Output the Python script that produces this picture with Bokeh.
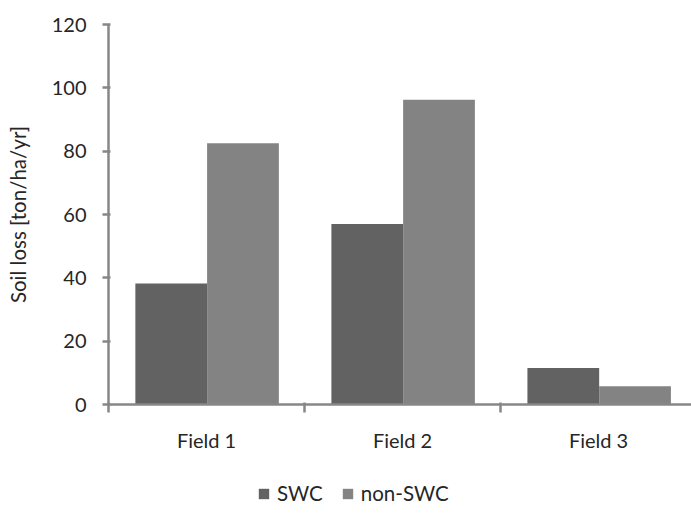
import numpy as np
from bokeh.plotting import figure
from bokeh.layouts import column
from bokeh.models import ColumnDataSource, Range1d, FixedTicker, Legend, LegendItem
from bokeh.transform import dodge
from bokeh.embed import file_html
from bokeh.resources import INLINE

categories = ["Field 1", "Field 2", "Field 3"]
series = ["SWC", "non-SWC"]
swc = [38.2, 57.0, 11.5]
non_swc = [82.5, 96.2, 5.8]
y_ticks = [0, 20, 40, 60, 80, 100, 120]
colors = ["#626262", "#838383"]

x_pos = (np.arange(len(categories)) + 0.5).tolist()
src = ColumnDataSource(dict(x=x_pos, swc=swc, non=non_swc, cat=categories))

FONT = "Lato"
TXT = "#262626"
AX = "#878787"

p = figure(width=691, height=470, output_backend="svg", toolbar_location=None,
           x_range=Range1d(0, 2.974), y_range=Range1d(0, 120),
           min_border_left=108, min_border_right=0, min_border_top=24,
           min_border_bottom=66)
p.outline_line_color = None
p.grid.grid_line_color = None
p.background_fill_color = "white"
p.border_fill_color = "white"

r1 = p.vbar(x=dodge("x", -0.18, range=p.x_range), top="swc", width=0.366, source=src,
            fill_color=colors[0], line_color=None)
r2 = p.vbar(x=dodge("x", 0.186, range=p.x_range), top="non", width=0.366, source=src,
            fill_color=colors[1], line_color=None)

# y axis
ya = p.yaxis[0]
ya.ticker = FixedTicker(ticks=y_ticks, minor_ticks=[])
ya.axis_line_color = AX
ya.axis_line_width = 2.5
ya.major_tick_line_color = AX
ya.major_tick_line_width = 2.5
ya.major_tick_out = 6
ya.major_tick_in = 2
ya.minor_tick_line_color = None
ya.major_label_standoff = 16
ya.major_label_text_font = FONT
ya.major_label_text_font_size = "20px"
ya.major_label_text_color = TXT
ya.axis_label = "Soil loss [ton/ha/yr]"
ya.axis_label_text_font = FONT
ya.axis_label_text_font_size = "20.5px"
ya.axis_label_text_font_style = "normal"
ya.axis_label_text_color = TXT
ya.axis_label_standoff = 19

# x axis
xa = p.xaxis[0]
xa.ticker = FixedTicker(ticks=x_pos, minor_ticks=[0, 1, 2, 3])
xa.major_label_overrides = {x: c for x, c in zip(x_pos, categories)}
xa.axis_line_color = AX
xa.axis_line_width = 2.5
xa.major_tick_line_color = None
xa.major_tick_out = 0
xa.major_tick_in = 0
xa.minor_tick_line_color = AX
xa.minor_tick_line_width = 2.5
xa.minor_tick_out = 8
xa.minor_tick_in = 2
xa.major_label_standoff = 15
xa.major_label_text_font = FONT
xa.major_label_text_font_size = "20px"
xa.major_label_text_color = TXT

# legend strip (frame aligned with the chart frame by the column layout)
lg = figure(width=691, height=45, output_backend="svg", toolbar_location=None,
            x_range=Range1d(0, 1), y_range=Range1d(0, 1),
            x_axis_location=None, y_axis_location=None,
            min_border_left=0, min_border_right=0, min_border_top=0, min_border_bottom=0)
lg.outline_line_color = None
lg.grid.grid_line_color = None
k1 = lg.vbar(x="x", top="swc", bottom="swc", width=0.0, source=src,
             fill_color=colors[0], line_color=None)
k2 = lg.vbar(x="x", top="non", bottom="non", width=0.0, source=src,
             fill_color=colors[1], line_color=None)

legend = Legend(items=[LegendItem(label=series[0], renderers=[k1]),
                       LegendItem(label=series[1], renderers=[k2])],
                orientation="horizontal", location=(149, 10))
legend.label_text_font = FONT
legend.label_text_font_size = "20.5px"
legend.label_text_color = TXT
legend.glyph_width = 13
legend.glyph_height = 13
legend.label_standoff = 7
legend.spacing = 18
legend.border_line_color = None
legend.background_fill_alpha = 0
legend.margin = 0
legend.padding = 0
lg.add_layout(legend, "center")

layout = column(p, lg, spacing=0)
open("out.html", "w").write(file_html(layout, INLINE))
